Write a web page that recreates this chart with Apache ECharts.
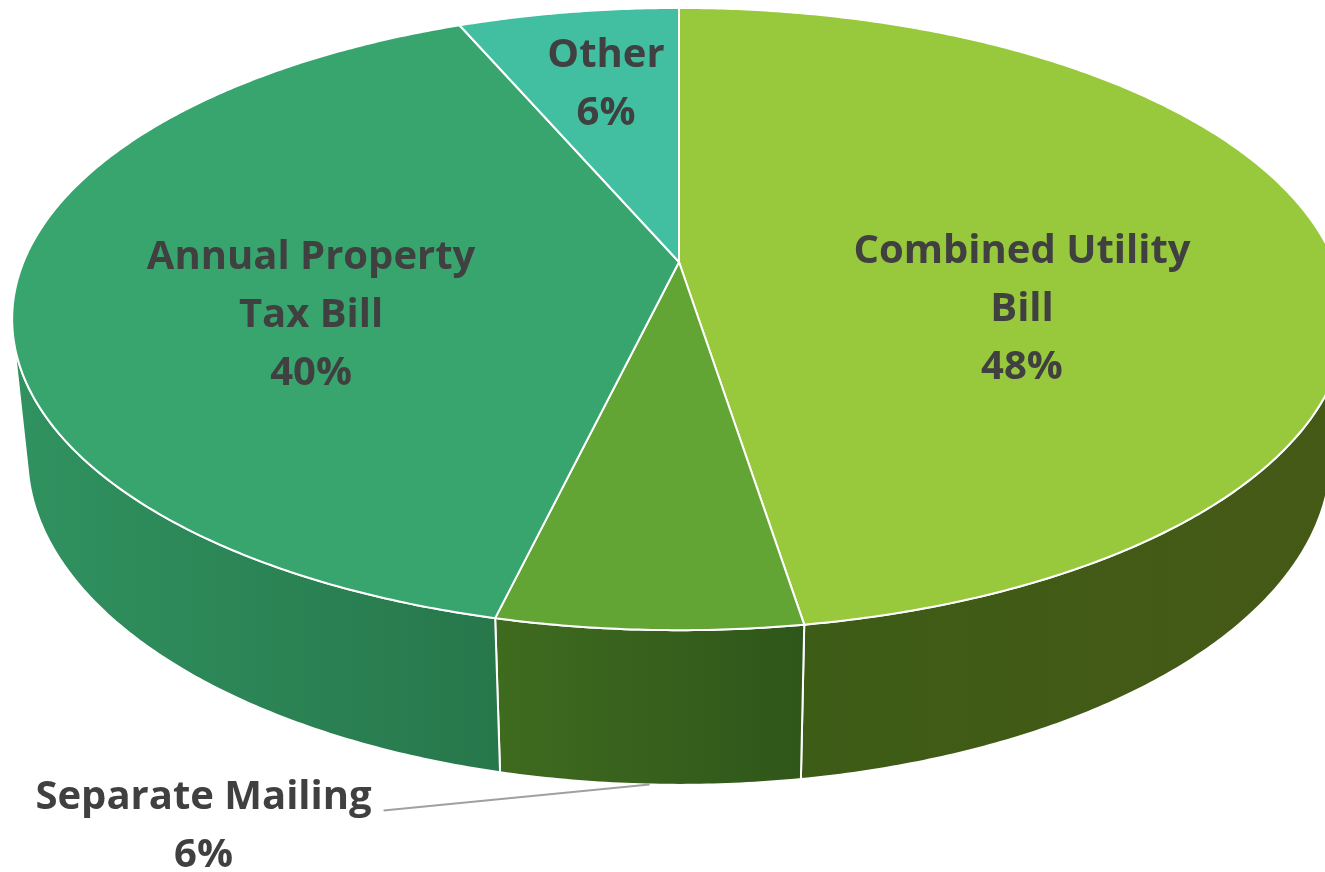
<!DOCTYPE html>
<html>
<head>
<meta charset="utf-8">
<style>
  html, body { margin: 0; padding: 0; background: #ffffff; }
  #chart { width: 1325px; height: 872px; }
</style>
<script src="https://cdn.jsdelivr.net/npm/echarts@6/dist/echarts.min.js"></script>
</head>
<body>
<div id="chart"></div>
<script>
// ---- data ----
const categories = ['Combined Utility\nBill', 'Separate Mailing', 'Annual Property\nTax Bill', 'Other'];
const values = [47.5, 6.2, 39.9, 6.4];
const topColors = ['#98C93C', '#62A534', '#38A56E', '#41BFA0'];
const wallColors = [['#3D5C16', '#465917'], ['#3F6B1F', '#2F561A'], ['#309260', '#27774B'], ['#2E9479', '#2E9479']];

// ---- 3D view (layout) ----
const VIEW = { cx: 679, cy: 262, k: 3176, L: 4.845, alpha: 27.3 * Math.PI / 180, h: 0.237 };
const LABEL_LAYOUT = [
  { X: 0.5086, Z: -0.1528 },
  { outside: true, dx: -446, dy: 42, lx: -266, ly: 26 },
  { X: -0.5434, Z: -0.174 },
  { X: -0.1249, Z: 0.6604 }
];

const total = values.reduce((a, b) => a + b, 0);
const starts = [];
let acc = 0;
values.forEach(v => { starts.push(acc); acc += v; });

const sinA = Math.sin(VIEW.alpha), cosA = Math.cos(VIEW.alpha);
function project(X, Y, Z) {
  const d = VIEW.L - Y * sinA + Z * cosA;
  const v = Y * cosA + Z * sinA;
  return [VIEW.cx + VIEW.k * X / d, VIEW.cy - VIEW.k * v / d];
}
function rimPoint(phiDeg, Y) {
  const p = phiDeg * Math.PI / 180;
  return project(Math.sin(p), Y, Math.cos(p));
}
function arc(a, b, Y) {
  const pts = [];
  const n = Math.max(2, Math.ceil((b - a) / 0.5));
  for (let i = 0; i <= n; i++) pts.push(rimPoint(a + (b - a) * i / n, Y));
  return pts;
}
// visible outer wall: cos(phi) < -1/(L cos a)
const visC = -1 / (VIEW.L * cosA);
const vis0 = Math.acos(visC) * 180 / Math.PI;
const vis1 = 360 - vis0;

function angles(i) {
  return [starts[i] / total * 360, (starts[i] + values[i]) / total * 360];
}

function renderWall(params, api) {
  const i = params.dataIndex;
  const [a, b] = angles(i);
  const s = Math.max(a, vis0), e = Math.min(b, vis1);
  if (e <= s) return { type: 'group', children: [] };
  const top = arc(s, e, 0);
  const bot = arc(s, e, -VIEW.h).reverse();
  return {
    type: 'polygon',
    shape: { points: top.concat(bot) },
    style: {
      fill: new echarts.graphic.LinearGradient(0, 0, 1, 0, [
        { offset: 0, color: wallColors[i][0] },
        { offset: 1, color: wallColors[i][1] }
      ]),
      stroke: '#ffffff',
      lineWidth: 2,
      lineJoin: 'round'
    }
  };
}

function renderTop(params, api) {
  const i = params.dataIndex;
  const [a, b] = angles(i);
  const pts = [project(0, 0, 0)].concat(arc(a, b, 0));
  const children = [{
    type: 'polygon',
    shape: { points: pts },
    style: { fill: topColors[i], stroke: '#ffffff', lineWidth: 2, lineJoin: 'round' }
  }];
  const text = categories[i] + '\n' + Math.round(api.value(1) / total * 100) + '%';
  const lay = LABEL_LAYOUT[i];
  const font = { fill: '#404040', fontSize: 40, fontWeight: 'bold', fontFamily: '"Open Sans", Lato, sans-serif', lineHeight: 58, align: 'center', verticalAlign: 'middle' };
  if (lay.outside) {
    const mid = (a + b) / 2;
    const anc = rimPoint(mid, -VIEW.h);
    children.push({
      type: 'line',
      shape: { x1: anc[0], y1: anc[1], x2: anc[0] + lay.lx, y2: anc[1] + lay.ly },
      style: { stroke: '#A0A0A0', lineWidth: 2 }
    });
    children.push({
      type: 'text',
      style: Object.assign({ text: text, x: anc[0] + lay.dx, y: anc[1] + lay.dy }, font)
    });
  } else {
    const p = project(lay.X, 0, lay.Z);
    children.push({
      type: 'text',
      style: Object.assign({ text: text, x: p[0], y: p[1] }, font)
    });
  }
  return { type: 'group', children: children };
}

const seriesData = values.map((v, i) => ({ name: categories[i], value: [i, v] }));

const chart = echarts.init(document.getElementById('chart'), null, { renderer: 'canvas' });
chart.setOption({
  animation: false,
  backgroundColor: '#ffffff',
  series: [
    { type: 'custom', coordinateSystem: 'none', renderItem: renderWall, data: seriesData, z: 1, silent: true },
    { type: 'custom', coordinateSystem: 'none', renderItem: renderTop, data: seriesData, z: 2, silent: true }
  ]
});
</script>
</body>
</html>
